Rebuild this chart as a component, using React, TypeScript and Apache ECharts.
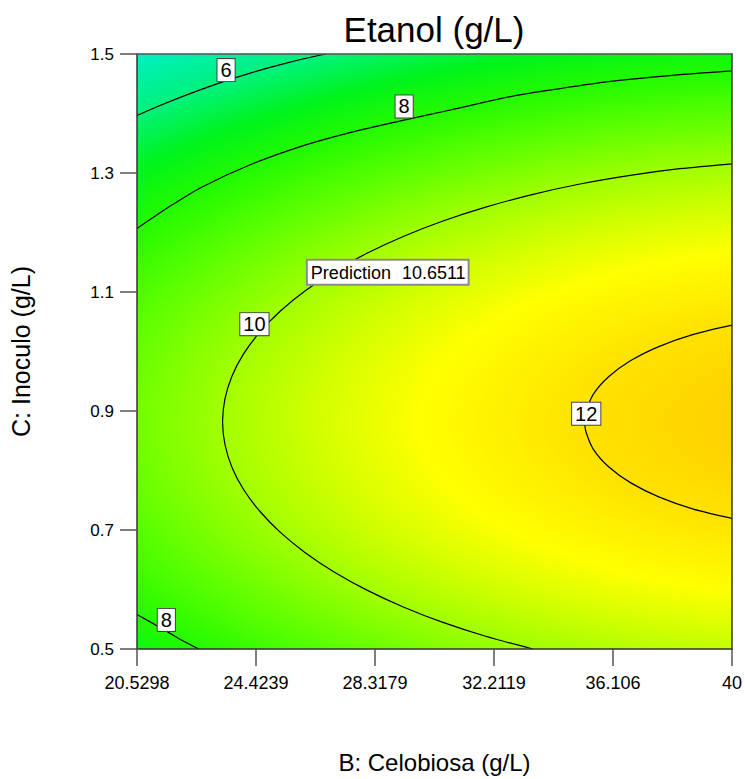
import React, { useEffect, useRef } from 'react';
import * as echarts from 'echarts';

const FONT = '"Liberation Sans", Arial, Helvetica, sans-serif';

// Axis ticks
const xTickLabels = ['20.5298', '24.4239', '28.3179', '32.2119', '36.106', '40'];
const yTickLabels = ['0.5', '0.7', '0.9', '1.1', '1.3', '1.5'];
const xTicks = xTickLabels.map(Number);
const yTicks = yTickLabels.map(Number);

// Contour traces, [B: Celobiosa, C: Inoculo]
const contour6 = [
  [20.530, 1.3967], [21.344, 1.4148], [22.158, 1.4314], [23.167, 1.4503], [23.786, 1.4607],
  [24.600, 1.4734], [25.414, 1.4846], [26.065, 1.4928], [26.716, 1.5000],
];
const contour8Upper = [
  [20.530, 1.2067], [21.670, 1.2461], [22.646, 1.2762], [24.274, 1.3147], [25.902, 1.3448],
  [27.530, 1.3682], [29.158, 1.3875], [30.786, 1.4059], [32.837, 1.4293], [34.368, 1.4419],
  [36.093, 1.4544], [37.949, 1.4637], [40.000, 1.4715],
];
const contour8Lower = [
  [20.530, 0.5581], [21.018, 0.5439], [21.507, 0.5296], [21.995, 0.5146], [22.548, 0.5000],
];
const contour10 = [
  [40.000, 1.3155], [38.291, 1.3072], [36.614, 1.2956], [34.986, 1.2811], [33.423, 1.2633],
  [31.939, 1.2426], [30.542, 1.2193], [29.243, 1.1933], [28.054, 1.1651], [26.980, 1.1346],
  [26.036, 1.1021], [25.222, 1.0680], [24.548, 1.0325], [24.017, 0.9960], [23.636, 0.9585],
  [23.408, 0.9203], [23.330, 0.8820], [23.408, 0.8437], [23.636, 0.8055], [24.017, 0.7680],
  [24.548, 0.7315], [25.222, 0.6960], [26.036, 0.6619], [26.980, 0.6294], [28.054, 0.5989],
  [29.243, 0.5707], [30.542, 0.5447], [31.939, 0.5214], [33.482, 0.5000],
];
const contour12 = [
  [40.000, 1.0444], [38.737, 1.0288], [37.623, 1.0087], [36.689, 0.9848], [35.963, 0.9576],
  [35.465, 0.9283], [35.214, 0.8975], [35.182, 0.8820], [35.214, 0.8664], [35.465, 0.8356],
  [35.963, 0.8063], [36.689, 0.7792], [37.623, 0.7553], [38.737, 0.7352], [40.000, 0.7196],
];

// Contour level labels
const contourLabelText = ['6', '8', '10', '12', '8'];
const contourLabelAt = [
  [23.444, 1.4729], [29.272, 1.4118], [24.372, 1.0460], [35.230, 0.8954], [21.490, 0.5489],
];

// Flagged prediction
const predictionName = 'Prediction';
const predictionValue = '10.6511';
const predictionAt = [28.735, 1.1331];

// Response surface shading: location of the peak, ellipse aspect (C per B) and radius (B units)
const surfacePeak = [43.5, 0.882];
const surfaceAspect = 0.0215;
const surfaceRadius = 36.8;
const surfaceStops = [
  { offset: 0, color: '#ffc400' },
  { offset: 0.0956, color: '#ffd200' },
  { offset: 0.2266, color: '#ffe200' },
  { offset: 0.3717, color: '#ffff00' },
  { offset: 0.4601, color: '#d4ff00' },
  { offset: 0.5486, color: '#a2ff00' },
  { offset: 0.6549, color: '#5cff00' },
  { offset: 0.7486, color: '#22fa00' },
  { offset: 0.8228, color: '#00f41c' },
  { offset: 0.9024, color: '#00f27a' },
  { offset: 1, color: '#00efc4' },
];

function tickFormatter(labels: string[], values: number[]) {
  return (v: number) => {
    let best = 0;
    for (let i = 1; i < values.length; i++) {
      if (Math.abs(values[i] - v) < Math.abs(values[best] - v)) best = i;
    }
    return labels[best];
  };
}

function contourSeries(name: string, data: number[][]) {
  return {
    type: 'line',
    name,
    data,
    smooth: 0.3,
    symbol: 'none',
    silent: true,
    lineStyle: { color: '#000', width: 1.2 },
    z: 3,
  };
}

export default function App() {
  const ref = useRef<HTMLDivElement>(null);

  useEffect(() => {
    document.body.style.margin = '0';
    if (!ref.current) return;
    const chart = echarts.init(ref.current, undefined, { renderer: 'svg' });

    const axisLine = { show: true, onZero: false, lineStyle: { color: '#333', width: 1.5 } };
    const axisTick = { show: true, length: 17, lineStyle: { color: '#555', width: 1.5 } };

    const option: any = {
      animation: false,
      backgroundColor: '#fff',
      graphic: [
        {
          type: 'text',
          x: 434,
          y: 29,
          style: {
            text: 'Etanol (g/L)',
            fontSize: 35,
            fontFamily: FONT,
            fill: '#000',
            align: 'center',
            verticalAlign: 'middle',
            textAlign: 'center',
            textVerticalAlign: 'middle',
          },
        },
      ],
      grid: { left: 135, top: 54, width: 598, height: 598, containLabel: false },
      xAxis: [
        {
          type: 'value',
          min: xTicks[0],
          max: xTicks[xTicks.length - 1],
          z: 10,
          name: 'B: Celobiosa (g/L)',
          nameLocation: 'middle',
          nameGap: 101,
          nameTextStyle: { fontSize: 24, color: '#000', fontFamily: FONT },
          axisLine,
          axisTick: { ...axisTick, customValues: xTicks },
          axisLabel: {
            customValues: xTicks,
            formatter: tickFormatter(xTickLabels, xTicks),
            fontSize: 18,
            color: '#000',
            fontFamily: FONT,
            margin: 25,
          },
          splitLine: { show: false },
        },
        {
          type: 'value',
          position: 'top',
          min: xTicks[0],
          max: xTicks[xTicks.length - 1],
          z: 10,
          axisLine: { show: true, onZero: false, lineStyle: { color: '#555', width: 1.5 } },
          axisTick: { show: false },
          axisLabel: { show: false },
          splitLine: { show: false },
        },
      ],
      yAxis: [
        {
          type: 'value',
          min: yTicks[0],
          max: yTicks[yTicks.length - 1],
          z: 10,
          name: 'C: Inoculo (g/L)',
          nameLocation: 'middle',
          nameGap: 104,
          nameTextStyle: { fontSize: 25, color: '#000', fontFamily: FONT },
          axisLine,
          axisTick: { ...axisTick, customValues: yTicks },
          axisLabel: {
            customValues: yTicks,
            formatter: tickFormatter(yTickLabels, yTicks),
            fontSize: 17,
            color: '#000',
            fontFamily: FONT,
            margin: 23,
          },
          splitLine: { show: false },
        },
        {
          type: 'value',
          position: 'right',
          min: yTicks[0],
          max: yTicks[yTicks.length - 1],
          z: 10,
          axisLine: { show: true, onZero: false, lineStyle: { color: '#333', width: 1.5 } },
          axisTick: { show: false },
          axisLabel: { show: false },
          splitLine: { show: false },
        },
      ],
      series: [
        {
          type: 'custom',
          name: 'surface',
          silent: true,
          z: 1,
          data: [surfacePeak],
          renderItem: (params: any, api: any) => {
            const cs = params.coordSys;
            const c = api.coord([api.value(0), api.value(1)]);
            const sz = api.size([1, 1]);
            const ratio = (surfaceAspect * sz[1]) / sz[0];
            const rPx = surfaceRadius * sz[0];
            return {
              type: 'rect',
              x: c[0],
              y: c[1],
              scaleY: ratio,
              shape: {
                x: cs.x - c[0],
                y: (cs.y - c[1]) / ratio,
                width: cs.width,
                height: cs.height / ratio,
              },
              style: {
                fill: new echarts.graphic.RadialGradient(0, 0, rPx, surfaceStops, true),
              },
            };
          },
        },
        contourSeries('6', contour6),
        contourSeries('8', contour8Upper),
        contourSeries('8 ', contour8Lower),
        contourSeries('10', contour10),
        contourSeries('12', contour12),
        {
          type: 'scatter',
          name: 'levels',
          silent: true,
          z: 5,
          symbolSize: 0,
          itemStyle: { color: '#fff', opacity: 1 },
          data: contourLabelText.map((t, i) => ({ name: t, value: contourLabelAt[i] })),
          label: {
            show: true,
            position: 'inside',
            formatter: '{b}',
            fontSize: 20,
            fontFamily: FONT,
            color: '#000',
            opacity: 1,
            backgroundColor: '#fff',
            borderColor: '#444',
            borderWidth: 1,
            padding: [1, 3],
          },
        },
        {
          type: 'scatter',
          name: 'prediction',
          silent: true,
          z: 6,
          symbolSize: 0,
          itemStyle: { color: '#fff', opacity: 1 },
          data: [{ name: predictionName, value: predictionAt }],
          label: {
            show: true,
            position: 'inside',
            opacity: 1,
            formatter: () => `{p|${predictionName}}{v|${predictionValue}}`,
            rich: {
              p: { fontSize: 18, fontFamily: FONT, color: '#000' },
              v: { fontSize: 18, fontFamily: FONT, color: '#000', padding: [0, 0, 0, 11] },
            },
            backgroundColor: '#fff',
            borderColor: '#8c8c8c',
            borderWidth: 2,
            padding: [3, 2, 2, 3],
          },
        },
      ],
    };

    chart.setOption(option);
    return () => chart.dispose();
  }, []);

  return (
    <div
      ref={ref}
      style={{ position: 'fixed', left: 0, top: 0, width: 745, height: 779 }}
    />
  );
}
